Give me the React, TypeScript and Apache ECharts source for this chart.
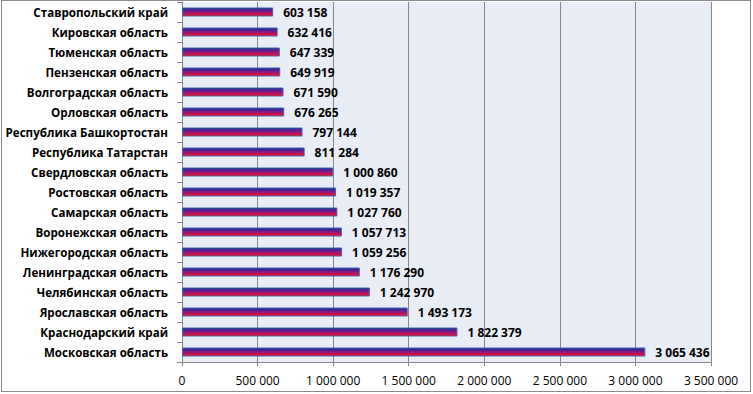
import React, { useEffect, useRef } from "react";
import * as echarts from "echarts";

const regions = [
  "Московская область",
  "Краснодарский край",
  "Ярославская область",
  "Челябинская область",
  "Ленинградская область",
  "Нижегородская область",
  "Воронежская область",
  "Самарская область",
  "Ростовская область",
  "Свердловская область",
  "Республика Татарстан",
  "Республика Башкортостан",
  "Орловская область",
  "Волгоградская область",
  "Пензенская область",
  "Тюменская область",
  "Кировская область",
  "Ставропольский край",
];

const values = [
  3065436, 1822379, 1493173, 1242970, 1176290, 1059256, 1057713, 1027760,
  1019357, 1000860, 811284, 797144, 676265, 671590, 649919, 647339, 632416,
  603158,
];

const fmt = (v: number) =>
  String(Math.round(v)).replace(/\B(?=(\d{3})+(?!\d))/g, " ");

export default function App() {
  const ref = useRef<HTMLDivElement>(null);
  useEffect(() => {
    if (!ref.current) return;
    const chart = echarts.init(ref.current, undefined, { renderer: "svg" });
    const font = "'Open Sans', 'Noto Sans', sans-serif";
    chart.setOption({
      animation: false,
      grid: {
        left: 182,
        right: 42,
        top: 2,
        bottom: 32,
        show: true,
        backgroundColor: "#e9edf6",
        borderWidth: 0,
      },
      xAxis: {
        type: "value",
        min: 0,
        max: 3500000,
        interval: 500000,
        axisLine: { show: true, lineStyle: { color: "#868686" } },
        axisTick: { show: true, length: 4, lineStyle: { color: "#868686" } },
        splitLine: { show: true, lineStyle: { color: "#868686", width: 1 } },
        axisLabel: {
          color: "#000",
          fontFamily: font,
          fontSize: 12,
          margin: 12,
          formatter: (v: number) => fmt(v),
        },
      },
      yAxis: {
        type: "category",
        data: regions,
        axisLine: { show: true, lineStyle: { color: "#868686" } },
        axisTick: { show: true, length: 5, lineStyle: { color: "#868686" } },
        axisLabel: {
          color: "#000",
          fontFamily: font,
          fontWeight: "bold",
          fontSize: 11.6,
          margin: 14,
        },
      },
      series: [
        {
          type: "bar",
          data: values,
          barWidth: 9,
          itemStyle: {
            color: new echarts.graphic.LinearGradient(0, 0, 0, 1, [
              { offset: 0, color: "#1c2a8c" },
              { offset: 0.5, color: "#8a1a8a" },
              { offset: 1, color: "#ff1010" },
            ]),
            borderColor: "#3f64b0",
            borderWidth: 1,
          },
          label: {
            show: true,
            position: "right",
            distance: 10,
            color: "#000",
            fontFamily: font,
            fontWeight: "bold",
            fontSize: 12,
            formatter: (p: any) => fmt(p.value),
          },
        },
      ],
    });
    return () => chart.dispose();
  }, []);
  return (
    <div
      style={{
        position: "fixed",
        left: 0,
        top: 0,
        width: 753,
        height: 394,
        background: "#fff",
      }}
    >
      <div ref={ref} style={{ width: 753, height: 394 }} />
      <div
        style={{
          position: "absolute",
          left: 1,
          top: 0,
          width: 750,
          height: 392,
          boxSizing: "border-box",
          border: "1px solid #8c8c8c",
          pointerEvents: "none",
        }}
      />
    </div>
  );
}
